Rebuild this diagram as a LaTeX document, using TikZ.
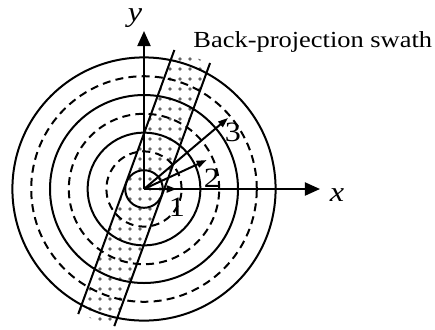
\documentclass[tikz,border=0pt]{standalone}
\usepackage{fontspec}
\setmainfont{Liberation Serif}[FakeStretch=1.15]
\usetikzlibrary{arrows.meta, patterns.meta}
\tikzset{
    ringsolid/.style={
        line width=1pt
    },
    ringdashed/.style={
        line width=1pt,
        dash pattern=on 4pt off 2.6pt
    },
    axisline/.style={
        -{Triangle[length=7.5pt, width=6.5pt]},
        line width=1pt
    },
    vecline/.style={
        -{Triangle[length=5pt, width=3.5pt]},
        line width=1pt
    },
    swathfill/.style={
        pattern={Dots[distance=5pt, radius=0.9pt]},
        pattern color=black!60
    },
    axislabel/.style={
        font=\fontsize{14}{16}\selectfont\itshape,
        inner sep=0pt
    },
    numlabel/.style={
        font=\fontsize{14}{16}\selectfont,
        inner sep=0pt
    },
    notelabel/.style={
        font=\fontsize{11.5}{14}\selectfont,
        inner sep=0pt,
        anchor=west
    }
}

\begin{document}
\begin{tikzpicture}[x=0.5pt, y=0.5pt]
    \useasboundingbox (-144,-140) rectangle (291,189);
    \coordinate (O) at (0,0);

    % swath corners
    \begin{scope}[rotate=70]
        \coordinate (swA) at (-140,19);
        \coordinate (swB) at (141,19);
        \coordinate (swC) at (141,-19);
        \coordinate (swD) at (-139,-19);
    \end{scope}
    \fill[swathfill] (swA) -- (swB) -- (swC) -- (swD) -- cycle;

    \foreach \k in {1,3,5,7}
        \draw[ringsolid] (O) circle (18.8*\k);
    \foreach \k in {2,4,6}
        \draw[ringdashed] (O) circle (18.8*\k);

    \draw[ringsolid] (swA) -- (swB);
    \draw[ringsolid] (swD) -- (swC);

    \coordinate (xtip) at (176,0);
    \coordinate (ytip) at (0,158);
    \draw[axisline] (O) -- (xtip);
    \draw[axisline] (O) -- (ytip);
    \node[axislabel] (xlab) at (193,-6) {x};
    \node[axislabel] (ylab) at (-9,171) {y};

    \coordinate (vone) at (32.7,0);
    \coordinate (vtwo) at (24.8:69);
    \coordinate (vthree) at (40.2:110);
    \draw[vecline] (O) -- (vone);
    \draw[vecline] (O) -- (vtwo);
    \draw[vecline] (O) -- (vthree);
    \node[numlabel] (lone) at (33,-18) {1};
    \node[numlabel] (ltwo) at (68,11) {2};
    \node[numlabel] (lthree) at (89,57) {3};

    \node[notelabel] (swathlab) at (49,147) {Back-projection swath};
\end{tikzpicture}
\end{document}
